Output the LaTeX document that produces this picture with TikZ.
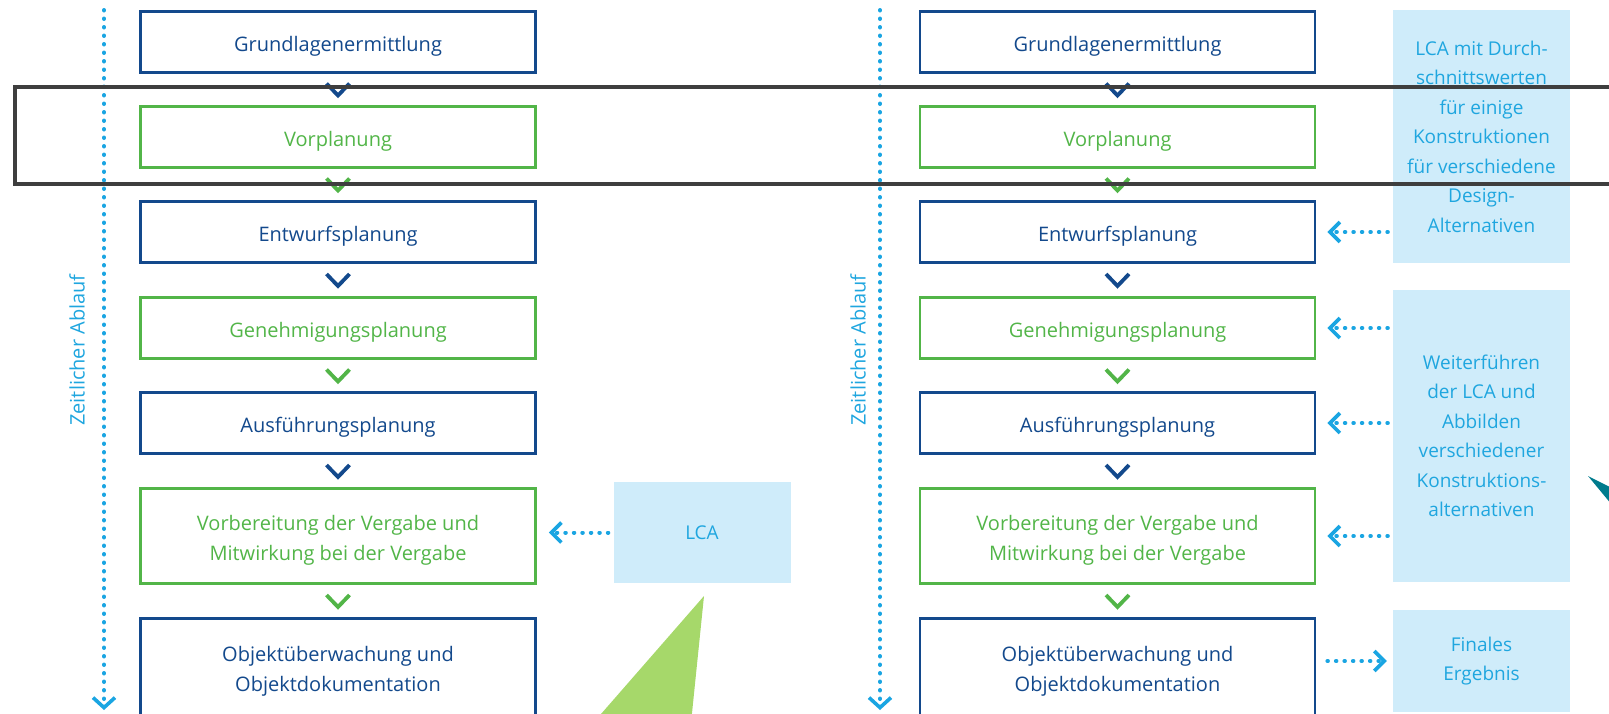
\documentclass[tikz,border=0pt]{standalone}
\usepackage{fontspec}
\setmainfont{Open Sans}
\usetikzlibrary{arrows.meta,calc}

\definecolor{navy}{HTML}{13498C}
\definecolor{leaf}{HTML}{52B548}
\definecolor{skyfill}{HTML}{CFECFA}
\definecolor{skytext}{HTML}{1FA6DF}
\definecolor{dotblue}{HTML}{1AA5E2}
\definecolor{framegray}{HTML}{3E3E3E}
\definecolor{wedgegreen}{HTML}{A6D86A}
\definecolor{wedgeteal}{HTML}{007B8D}

\newcommand{\stagetip}[3]{\draw[stagechev,#3] ($(#1.south)!0.5!(#2.north)$) ++(-11.5,-6) -- ++(11.5,12) -- ++(11.5,-12);}

\begin{document}
\begin{tikzpicture}[x=1pt,y=-1pt,
	stage/.style={draw=#1, text=#1, line width=2.8pt, minimum width=395pt, minimum height=61pt, align=center, inner sep=0pt, font=\fontsize{20}{30}\selectfont, execute at begin node={\rule{0pt}{24.5pt}}},
	twoline/.style={minimum height=#1, execute at begin node={\rule{0pt}{54.5pt}}},
	lcabox/.style={fill=skyfill, text=skytext, inner sep=0pt, minimum width=177pt, align=center, font=\fontsize{19}{29.5}\selectfont},
	stagechev/.style={line width=3.8pt, line join=miter},
	dotline/.style={draw=dotblue, line width=4pt, dash pattern=on 0.5pt off 8pt, line cap=round},
	timeline/.style={dotline, -{Straight Barb[length=10pt,width=22pt,line width=3.6pt]}},
	lcaarrow/.style={dotline, -{Straight Barb[length=10pt,width=20pt,line width=3.6pt]}},
	timetext/.style={text=skytext, rotate=90, font=\fontsize{20}{24}\selectfont}]
	\useasboundingbox (0,0) rectangle (1609,713);
	\clip (0,0) rectangle (1609,713);

	\node[stage=navy] (grundL) at (338,42) {Grundlagenermittlung};
	\node[stage=leaf] (vorL) at (338,137) {Vorplanung};
	\node[stage=navy] (entL) at (338,232) {Entwurfsplanung};
	\node[stage=leaf] (genL) at (338,328) {Genehmigungsplanung};
	\node[stage=navy] (ausL) at (338,423) {Ausführungsplanung};
	\node[stage=leaf, twoline=95pt] (vergL) at (338,536) {Vorbereitung der Vergabe und\\Mitwirkung bei der Vergabe};
	\node[stage=navy, twoline=97pt] (objL) at (338,667) {Objektüberwachung und\\Objektdokumentation};

	\node[stage=navy] (grundR) at (1117.5,42) {Grundlagenermittlung};
	\node[stage=leaf] (vorR) at (1117.5,137) {Vorplanung};
	\node[stage=navy] (entR) at (1117.5,232) {Entwurfsplanung};
	\node[stage=leaf] (genR) at (1117.5,328) {Genehmigungsplanung};
	\node[stage=navy] (ausR) at (1117.5,423) {Ausführungsplanung};
	\node[stage=leaf, twoline=95pt] (vergR) at (1117.5,536) {Vorbereitung der Vergabe und\\Mitwirkung bei der Vergabe};
	\node[stage=navy, twoline=97pt] (objR) at (1117.5,667) {Objektüberwachung und\\Objektdokumentation};

	\stagetip{grundL}{vorL}{navy}
	\stagetip{vorL}{entL}{leaf}
	\stagetip{entL}{genL}{navy}
	\stagetip{genL}{ausL}{leaf}
	\stagetip{ausL}{vergL}{navy}
	\stagetip{vergL}{objL}{leaf}
	\stagetip{grundR}{vorR}{navy}
	\stagetip{vorR}{entR}{leaf}
	\stagetip{entR}{genR}{navy}
	\stagetip{genR}{ausR}{leaf}
	\stagetip{ausR}{vergR}{navy}
	\stagetip{vergR}{objR}{leaf}

	\node[lcabox, minimum height=101pt] (lcaL) at (702,532.5) {LCA};
	\node[lcabox, minimum height=253pt] (lcaMean) at (1481.5,136.5) {LCA mit Durch-\\schnittswerten\\für einige\\Konstruktionen\\für verschiedene\\Design-\\Alternativen};
	\node[lcabox, minimum height=292pt] (lcaMore) at (1481.5,436) {Weiterführen\\der LCA und\\Abbilden\\verschiedener\\Konstruktions-\\alternativen};
	\node[lcabox, minimum height=102pt] (final) at (1481.5,661) {Finales\\Ergebnis};

	\draw[lcaarrow, shorten <=5pt, shorten >=12pt] (lcaL.west) -- (lcaL.west -| vergL.east);
	\draw[lcaarrow, shorten <=5pt, shorten >=11pt] (lcaMean.west |- entR.east) -- (entR.east);
	\draw[lcaarrow, shorten <=5pt, shorten >=11pt] (lcaMore.west |- genR.east) -- (genR.east);
	\draw[lcaarrow, shorten <=5pt, shorten >=11pt] (lcaMore.west |- ausR.east) -- (ausR.east);
	\draw[lcaarrow, shorten <=5pt, shorten >=11pt] (lcaMore.west |- vergR.east) -- (vergR.east);
	\draw[lcaarrow, shorten <=11pt, shorten >=6pt] (final.west -| objR.east) -- (final.west);

	\coordinate (timeTopL) at (104,10);
	\coordinate (timeEndL) at (104,710);
	\coordinate (timeTopR) at (880,10);
	\coordinate (timeEndR) at (880,710);
	\draw[timeline] (timeTopL) -- (timeEndL);
	\draw[timeline] (timeTopR) -- (timeEndR);
	\node[timetext] (timeL) at (77,350) {Zeitlicher Ablauf};
	\node[timetext] (timeR) at (858,350) {Zeitlicher Ablauf};

	\fill[wedgegreen] (704,596) -- (597.5,718) -- (691.5,718) -- cycle;
	\fill[wedgeteal] (1588,476) -- (1612,488) -- (1612,505) -- cycle;

	\draw[framegray, line width=3.5pt] (15,87) rectangle (1630,184);
\end{tikzpicture}
\end{document}
